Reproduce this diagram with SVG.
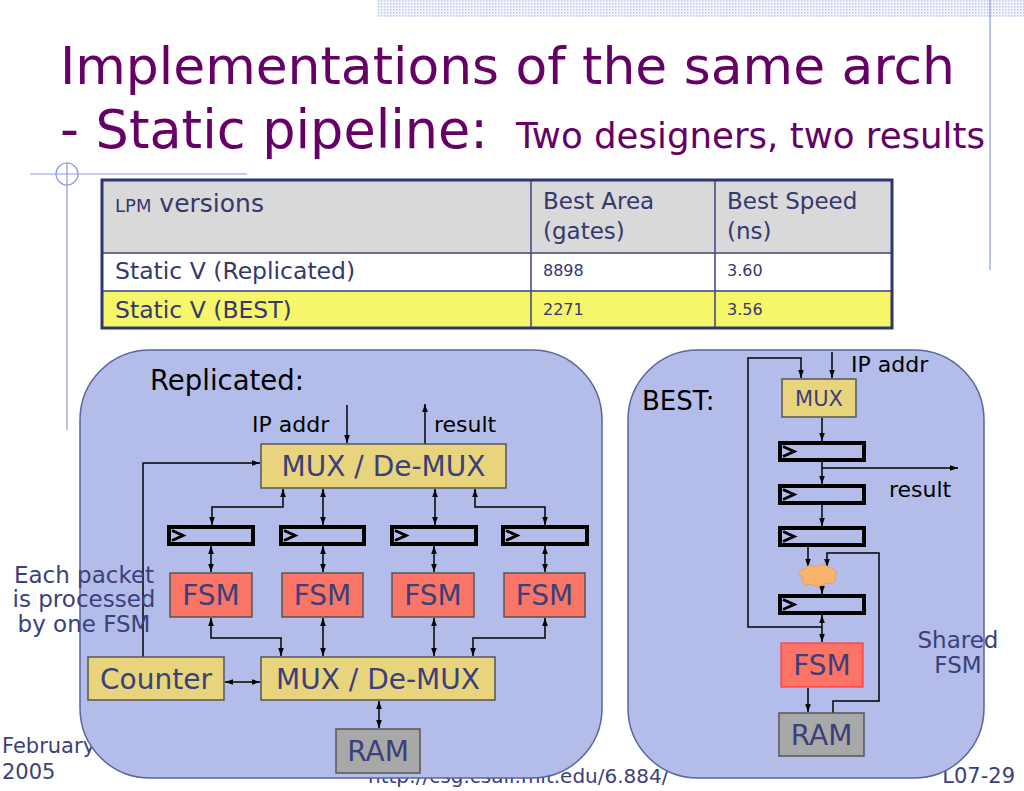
<svg xmlns="http://www.w3.org/2000/svg" width="1024" height="791" viewBox="0 0 1024 791">
<style>
.t{font-family:"DejaVu Sans","Verdana","Liberation Sans",sans-serif}
.title{font-family:"DejaVu Sans","Liberation Sans",sans-serif;fill:#660066}
.navy{fill:#3c3f7a}
.blk{fill:#000}
.panel{fill:#b4bdea;stroke:#5b63a0;stroke-width:1.5}
.mux{fill:#e8d47c;stroke:#555;stroke-width:1.5}
.fsm{fill:#fa7565;stroke:#555;stroke-width:1.5}
.ram{fill:#a8a8a8;stroke:#555;stroke-width:1.5}
.reg{fill:none;stroke:#000;stroke-width:4}
.clk{fill:none;stroke:#000;stroke-width:3;stroke-linejoin:miter}
.w{fill:none;stroke:#000;stroke-width:1.5}
.deco{stroke:#8c9ae0;stroke-width:1.2;fill:none}
.tb{font-family:"DejaVu Sans","Liberation Sans",sans-serif;fill:#34386e}
</style>
<defs>
<pattern id="dots" width="3" height="3" patternUnits="userSpaceOnUse">
<rect width="3" height="3" fill="#f2f4fc"/>
<rect width="1.5" height="1.5" fill="#c3cbef"/>
</pattern>
<marker id="ah" viewBox="0 0 10 10" refX="10" refY="5" markerWidth="8" markerHeight="8" markerUnits="userSpaceOnUse" orient="auto-start-reverse">
<path d="M0,1.5 L10,5 L0,8.5 z" fill="#000"/>
</marker>
</defs>
<rect width="1024" height="791" fill="#fff"/>

<!-- decorations -->
<g id="decor">
<rect x="377" y="0" width="647" height="17" fill="url(#dots)"/>
<line class="deco" x1="990" y1="0" x2="990" y2="270"/>
<line class="deco" x1="30" y1="174" x2="247" y2="174"/>
<line class="deco" x1="67" y1="162" x2="67" y2="430"/>
<circle class="deco" cx="67" cy="174" r="11"/>
</g>

<!-- title -->
<g id="title">
<text class="title" x="60" y="84" font-size="52" textLength="895" lengthAdjust="spacingAndGlyphs">Implementations of the same arch</text>
<text class="title" x="60" y="148" font-size="53" textLength="428" lengthAdjust="spacingAndGlyphs">- Static pipeline:</text>
<text class="title" x="516" y="148" font-size="35" textLength="469" lengthAdjust="spacingAndGlyphs">Two designers, two results</text>
</g>

<!-- footer (behind panels) -->
<g id="footer" class="t navy" font-size="21">
<text x="2" y="753">February</text>
<text x="2" y="779">2005</text>
<text x="368" y="783" font-size="20">http://csg.csail.mit.edu/6.884/</text>
<text x="1015" y="783" text-anchor="end">L07-29</text>
</g>

<!-- table -->
<g id="table">
<rect x="102" y="180" width="790" height="73" fill="#d9d9d9"/>
<rect x="102" y="253" width="790" height="38" fill="#ffffff"/>
<rect x="102" y="291" width="790" height="37" fill="#f6f66a"/>
<g stroke="#3a4280" stroke-width="1.5">
<line x1="102" y1="253" x2="892" y2="253"/>
<line x1="102" y1="291" x2="892" y2="291"/>
<line x1="531" y1="180" x2="531" y2="328"/>
<line x1="715" y1="180" x2="715" y2="328"/>
</g>
<rect x="102" y="180" width="790" height="148" fill="none" stroke="#2f3773" stroke-width="3"/>
<text class="tb" x="115" y="212"><tspan font-size="18">LPM</tspan><tspan font-size="25"> versions</tspan></text>
<text class="tb" x="543" y="209" font-size="23">Best Area</text>
<text class="tb" x="543" y="239" font-size="23">(gates)</text>
<text class="tb" x="727" y="209" font-size="23">Best Speed</text>
<text class="tb" x="727" y="239" font-size="23">(ns)</text>
<text class="tb" x="115" y="279" font-size="23.5">Static V (Replicated)</text>
<text class="tb" x="543" y="276" font-size="16">8898</text>
<text class="tb" x="727" y="276" font-size="16">3.60</text>
<text class="tb" x="115" y="318" font-size="23.5">Static V (BEST)</text>
<text class="tb" x="543" y="315" font-size="16">2271</text>
<text class="tb" x="727" y="315" font-size="16">3.56</text>
</g>

<!-- panels -->
<g id="panel-replicated">
<rect class="panel" x="80" y="350" width="522" height="428" rx="70" ry="70"/>
<text class="t blk" x="150" y="390" font-size="27.5">Replicated:</text>
<text class="t blk" x="252" y="432" font-size="22">IP addr</text>
<text class="t blk" x="434" y="432" font-size="22">result</text>
</g>
<g id="panel-best">
<rect class="panel" x="628" y="350" width="356" height="428" rx="70" ry="70"/>
<text class="t blk" x="642" y="410" font-size="26">BEST:</text>
<text class="t blk" x="851" y="372" font-size="22">IP addr</text>
<text class="t blk" x="889" y="497" font-size="22">result</text>
</g>

<!-- connectors -->
<g id="connectors" class="w">
<!-- replicated -->
<path d="M347,405 V443" marker-end="url(#ah)"/>
<path d="M425,444 V404" marker-end="url(#ah)"/>
<path d="M143,657 V463 H260" marker-end="url(#ah)"/>
<path d="M283,489 V507 H212 V525" marker-start="url(#ah)" marker-end="url(#ah)"/>
<path d="M323,489 V525" marker-start="url(#ah)" marker-end="url(#ah)"/>
<path d="M435,489 V525" marker-start="url(#ah)" marker-end="url(#ah)"/>
<path d="M475,489 V507 H545 V525" marker-start="url(#ah)" marker-end="url(#ah)"/>
<path d="M211,546 V572" marker-start="url(#ah)" marker-end="url(#ah)"/>
<path d="M323,546 V572" marker-start="url(#ah)" marker-end="url(#ah)"/>
<path d="M434,546 V572" marker-start="url(#ah)" marker-end="url(#ah)"/>
<path d="M545,546 V572" marker-start="url(#ah)" marker-end="url(#ah)"/>
<path d="M211,618 V638 H281 V656" marker-start="url(#ah)" marker-end="url(#ah)"/>
<path d="M323,618 V656" marker-start="url(#ah)" marker-end="url(#ah)"/>
<path d="M434,618 V656" marker-start="url(#ah)" marker-end="url(#ah)"/>
<path d="M545,618 V638 H473 V656" marker-start="url(#ah)" marker-end="url(#ah)"/>
<path d="M225,682 H260" marker-start="url(#ah)" marker-end="url(#ah)"/>
<path d="M379,701 V728" marker-start="url(#ah)" marker-end="url(#ah)"/>
<!-- best -->
<path d="M822,627 H748 V358 H801 V378" marker-end="url(#ah)"/>
<path d="M832,352 V378" marker-end="url(#ah)"/>
<path d="M822,418 V441" marker-end="url(#ah)"/>
<path d="M822,462 V484" marker-end="url(#ah)"/>
<path d="M822,468 H958" marker-end="url(#ah)"/>
<path d="M822,505 V526" marker-end="url(#ah)"/>
<path d="M808,547 V567" marker-end="url(#ah)"/>
<path d="M833,713 V701 H879 V553 H827 V567" marker-end="url(#ah)"/>
<path d="M822,584 V594" marker-end="url(#ah)"/>
<path d="M822,615 V642" marker-start="url(#ah)" marker-end="url(#ah)"/>
<path d="M808,688 V712" marker-end="url(#ah)"/>
</g>

<!-- replicated nodes -->
<g id="mux-top">
<rect class="mux" x="261" y="444" width="245" height="44"/>
<text class="t navy" x="383.5" y="476" font-size="28" text-anchor="middle">MUX / De-MUX</text>
</g>
<g id="reg-1"><rect class="reg" x="169" y="527" width="84" height="17"/><path class="clk" d="M172,530.5 L183,535.5 L172,540.5"/></g>
<g id="reg-2"><rect class="reg" x="281" y="527" width="83" height="17"/><path class="clk" d="M284,530.5 L295,535.5 L284,540.5"/></g>
<g id="reg-3"><rect class="reg" x="392" y="527" width="84" height="17"/><path class="clk" d="M395,530.5 L406,535.5 L395,540.5"/></g>
<g id="reg-4"><rect class="reg" x="503" y="527" width="84" height="17"/><path class="clk" d="M506,530.5 L517,535.5 L506,540.5"/></g>
<g id="fsm-1"><rect class="fsm" x="170" y="573" width="82" height="44"/><text class="t navy" x="211" y="605" font-size="28" text-anchor="middle">FSM</text></g>
<g id="fsm-2"><rect class="fsm" x="282" y="573" width="81" height="44"/><text class="t navy" x="322.5" y="605" font-size="28" text-anchor="middle">FSM</text></g>
<g id="fsm-3"><rect class="fsm" x="392" y="573" width="82" height="44"/><text class="t navy" x="433" y="605" font-size="28" text-anchor="middle">FSM</text></g>
<g id="fsm-4"><rect class="fsm" x="504" y="573" width="81" height="44"/><text class="t navy" x="544.5" y="605" font-size="28" text-anchor="middle">FSM</text></g>
<g id="counter"><rect class="mux" x="88" y="657" width="136" height="43"/><text class="t navy" x="156" y="689" font-size="28" text-anchor="middle">Counter</text></g>
<g id="mux-bottom"><rect class="mux" x="261" y="657" width="234" height="43"/><text class="t navy" x="378" y="689" font-size="28" text-anchor="middle">MUX / De-MUX</text></g>
<g id="ram-1"><rect class="ram" x="336" y="729" width="84" height="44"/><text class="t navy" x="378" y="761" font-size="28" text-anchor="middle">RAM</text></g>

<!-- best nodes -->
<g id="mux-best"><rect class="mux" x="782" y="379" width="74" height="38"/><text class="t navy" x="819" y="406" font-size="21" text-anchor="middle">MUX</text></g>
<g id="reg-b1"><rect class="reg" x="780" y="443" width="84" height="17"/><path class="clk" d="M783,446.5 L794,451.5 L783,456.5"/></g>
<g id="reg-b2"><rect class="reg" x="780" y="486" width="84" height="17"/><path class="clk" d="M783,489.5 L794,494.5 L783,499.5"/></g>
<g id="reg-b3"><rect class="reg" x="780" y="528" width="84" height="17"/><path class="clk" d="M783,531.5 L794,536.5 L783,541.5"/></g>
<g id="cloud"><path d="M803,577 C797,576 798,569 805,569 C806,565 813,564 816,567 C819,564 827,564 829,568 C836,567 838,574 834,577 C838,581 832,585 826,583 C823,587 814,587 812,584 C806,586 799,583 803,577 Z" fill="#f8b46c" stroke="#e6a060" stroke-width="1"/></g>
<g id="reg-b4"><rect class="reg" x="780" y="596" width="84" height="17"/><path class="clk" d="M783,599.5 L794,604.5 L783,609.5"/></g>
<g id="fsm-best"><rect x="781" y="643" width="82" height="44" fill="#fd7366" stroke="#ff3a3a" stroke-width="1.2"/><text class="t navy" x="822" y="675" font-size="28" text-anchor="middle">FSM</text></g>
<g id="ram-best"><rect class="ram" x="779" y="713" width="85" height="43"/><text class="t navy" x="821.5" y="745" font-size="28" text-anchor="middle">RAM</text></g>

<!-- side notes -->
<g id="notes" class="t navy" font-size="23" text-anchor="middle">
<text x="84" y="583">Each packet</text>
<text x="84" y="607">is processed</text>
<text x="84" y="632">by one FSM</text>
<text x="958" y="648">Shared</text>
<text x="958" y="673">FSM</text>
</g>
</svg>
